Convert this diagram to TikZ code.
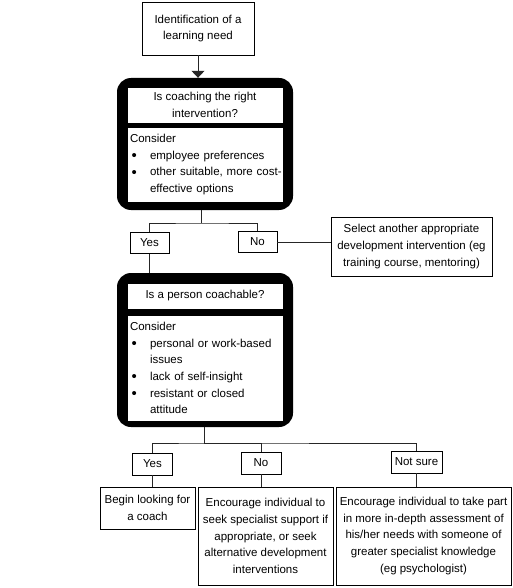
\documentclass[tikz,border=0pt]{standalone}
\usepackage{fontspec}
\setmainfont{Liberation Sans}
\usetikzlibrary{positioning, arrows.meta}
\newcommand{\bul}[1]{\mbox{\makebox[20pt][l]{\hspace{1.5pt}\raisebox{-0.2ex}{\scalebox{1.3}{\textbullet}}}#1}}
\newcommand{\ind}[1]{\mbox{\hspace*{20pt}#1}}

\begin{document}
\begin{tikzpicture}[x=1pt, y=-1pt,
        box/.style={draw, line width=0.8pt, fill=white, inner sep=0pt, align=center, font=\fontsize{11.5}{16.7}\selectfont},
        frame/.style={fill=black, rounded corners=14pt, minimum width=176pt, inner sep=0pt},
        title/.style={box, minimum width=156pt},
        content/.style={box, minimum width=156pt, text width=150pt, align=left, inner xsep=3pt},
        choice/.style={box, minimum height=21pt},
        link/.style={line width=0.9pt, black!85}
    ]
    \fill[white] (0,0) rectangle (512,588);
    \useasboundingbox (0,0) rectangle (512,588);

    % Start
    \node[box, minimum width=112pt, minimum height=53pt] (need) at (198,28.5) {Identification of a\\learning need};

    % First question
    \node[frame, minimum height=132pt] (frame1) at (205,144) {};
    \node[title, minimum height=36pt] (q1) at (205,105) {Is coaching the right\\intervention?};
    \node[content, minimum height=75pt] (c1) at (205,164.5) {Consider\\
        \bul{employee preferences}\\
        \bul{other suitable, more cost-}\\
        \ind{effective options}};

    % First answers
    \coordinate (split1) at (201,223);
    \node[choice, minimum width=39pt] (yes1) at (149.5,243) {Yes};
    \node[choice, minimum width=39pt] (no1) at (257.5,242) {No};
    \node[box, minimum width=161pt, minimum height=59pt] (select) at (411.5,246.5) {Select another appropriate\\development intervention (eg\\training course, mentoring)};

    % Second question
    \node[frame, minimum height=154pt] (frame2) at (205,350) {};
    \node[title, minimum height=26pt] (q2) at (205,296) {Is a person coachable?};
    \node[content, minimum height=106pt] (c2) at (205,368) {Consider\\
        \bul{personal or work-based}\\
        \ind{issues}\\
        \bul{lack of self-insight}\\
        \bul{resistant or closed}\\
        \ind{attitude}};

    % Second answers
    \coordinate (split2) at (204,443);
    \node[choice, minimum width=40pt, minimum height=22pt] (yes2) at (152.5,464) {Yes};
    \node[choice, minimum width=40pt, minimum height=22pt] (no2) at (261,463) {No};
    \node[choice, minimum width=51pt, minimum height=22pt] (notsure) at (416.5,462) {Not sure};

    % Outcomes
    \node[box, minimum width=95pt, minimum height=42pt] (begin) at (147.5,508) {Begin looking for\\a coach};
    \node[box, minimum width=135pt, minimum height=98pt] (enc1) at (265.5,536) {Encourage individual to\\seek specialist support if\\appropriate, or seek\\alternative development\\interventions};
    \node[box, minimum width=175pt, minimum height=98pt] (enc2) at (423.5,536) {Encourage individual to take part\\in more in-depth assessment of\\his/her needs with someone of\\greater specialist knowledge\\(eg psychologist)};

    % Connectors
    \draw[link, -{Triangle[width=13pt, length=7pt]}] (need.south) -- (need.south |- frame1.north);
    \draw[link] (frame1.south -| split1) -- (split1);
    \draw[link] (yes1.north) |- (split1) -| (no1.north);
    \draw[link] (no1.east) -- (no1.east -| select.west);
    \draw[link] (yes1.south) -- (yes1.south |- frame2.north);

    \draw[link] (frame2.south -| split2) -- (split2);
    \draw[link] (yes2.north) |- (split2) -| (notsure.north);
    \draw[link] (split2) -| (no2.north);
    \draw[link] (yes2.south) -- (yes2.south |- begin.north);
    \draw[link] (no2.south) -- (no2.south |- enc1.north);
    \draw[link] (notsure.south) -- (notsure.south |- enc2.north);

\end{tikzpicture}
\end{document}
